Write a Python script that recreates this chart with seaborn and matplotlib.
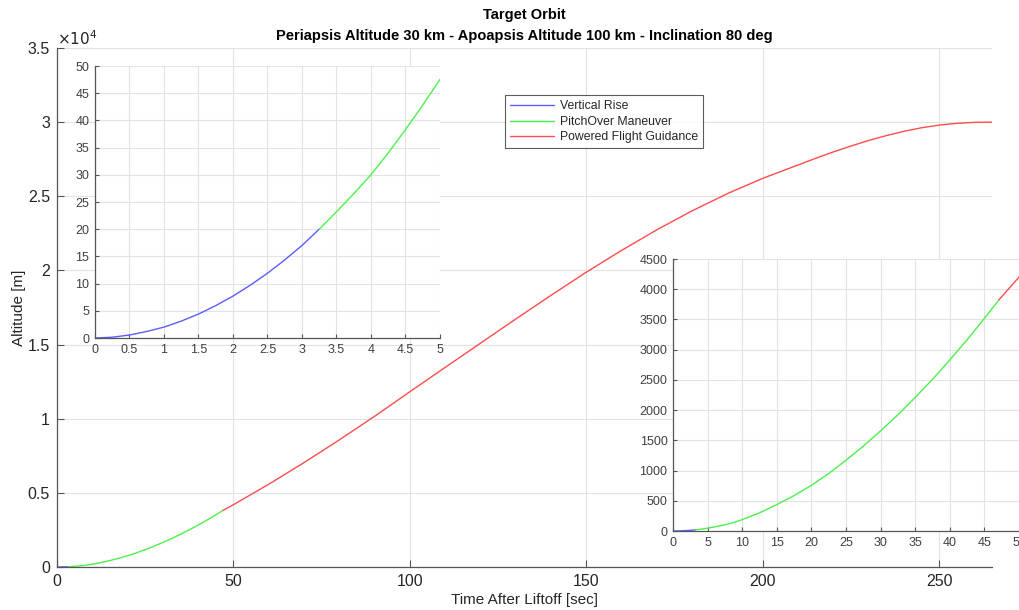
import numpy as np
import pandas as pd
import matplotlib
matplotlib.use("Agg")
import matplotlib.pyplot as plt
import matplotlib.ticker as mticker
import seaborn as sns

# ---------------- DATA ----------------

rise_t = [0, 0.25, 0.5, 0.75, 1, 1.25, 1.5, 1.75, 2, 2.25, 2.5, 2.75, 3, 3.25]
rise_alt = [0, 0.14, 0.55, 1.2, 2.0, 3.1, 4.4, 5.95, 7.7, 9.7, 11.9, 14.35,
            17.0, 20.0]

pitch_t = [3.25, 3.5, 3.75, 4, 4.25, 4.5, 4.75, 5, 6, 7, 8, 9, 10, 12.5, 15,
           17.5, 20, 22.5, 25, 27.5, 30, 32.5, 35, 37.5, 40, 42.5, 45, 47.1]
pitch_alt = [20.0, 23.2, 26.5, 30.0, 34.0, 38.3, 42.8, 47.5, 68, 91, 118, 150,
             188, 300, 437, 586, 756, 951, 1171, 1403, 1657, 1922, 2209, 2509,
             2830, 3163, 3517, 3824]

guid_t = [47.1, 50, 60, 70, 80, 90, 100, 110, 120, 130, 140, 150, 160, 170,
          180, 190, 200, 210, 215, 220, 225, 230, 235, 240, 245, 250, 255,
          260, 265]
guid_alt = [3824, 4200, 5580, 7040, 8570, 10160, 11820, 13460, 15090, 16720,
            18320, 19880, 21350, 22740, 24020, 25180, 26210, 27110, 27560,
            27990, 28390, 28760, 29090, 29380, 29620, 29800, 29920, 29985,
            30000]

labels = ["Vertical Rise", "PitchOver Maneuver", "Powered Flight Guidance"]
colors = ["#5c5cff", "#4cf04c", "#ff4c4c"]

main_xticks = [0, 50, 100, 150, 200, 250]
main_yticks = [0, 5000, 10000, 15000, 20000, 25000, 30000, 35000]

# ---------------- STYLE ----------------

sns.set_theme(style="white")
plt.rcParams["font.family"] = ["Liberation Sans", "DejaVu Sans"]
plt.rcParams["axes.edgecolor"] = "#555555"
plt.rcParams["xtick.direction"] = "in"
plt.rcParams["ytick.direction"] = "in"

grid_color = "#e3e3e3"

fig = plt.figure(figsize=(10.2, 6.1), dpi=100)


def draw_lines(ax, legend=False):
    series = [(rise_t, rise_alt), (pitch_t, pitch_alt), (guid_t, guid_alt)]
    for (t, a), lab, col in zip(series, labels, colors):
        sns.lineplot(x=t, y=a, ax=ax, color=col, linewidth=1.0,
                     label=lab if legend else None, sort=False, estimator=None)


def style_axes(ax, size, color, ticklen, pad):
    for s in ["top", "right"]:
        ax.spines[s].set_visible(False)
    for s in ["left", "bottom"]:
        ax.spines[s].set_color("#555555")
        ax.spines[s].set_linewidth(0.9)
    ax.tick_params(axis="both", which="both", direction="in", length=ticklen,
                   width=0.8, color="#555555", labelsize=size,
                   labelcolor=color, left=True, bottom=True, pad=pad)
    ax.grid(True, color=grid_color, linewidth=0.8)
    ax.set_axisbelow(True)


# ---------------- MAIN AXES ----------------

ax = fig.add_axes([0.0559, 0.0705, 0.9167, 0.8508])
draw_lines(ax, legend=True)
ax.set_xlim(0, 265)
ax.set_ylim(0, 35000)
ax.set_xticks(main_xticks)
ax.set_yticks(main_yticks)
ax.yaxis.set_major_formatter(mticker.FuncFormatter(lambda v, p: f"{v / 1e4:g}"))
style_axes(ax, 11.5, "#262626", 5, 5)
ax.set_xlabel("Time After Liftoff [sec]", fontsize=11, color="#262626", labelpad=3)
ax.set_ylabel("Altitude [m]", fontsize=11, color="#262626", labelpad=1)
ax.text(0.0, 1.0, r"$\times10^{4}$", transform=ax.transAxes, ha="left",
        va="bottom", fontsize=11, color="#262626")
ax.set_title("Target Orbit\nPeriapsis Altitude 30 km - Apoapsis Altitude 100 km - Inclination 80 deg",
             fontsize=10.5, fontweight="bold", color="black", pad=6, linespacing=1.6)

leg = ax.legend(loc="upper left", bbox_to_anchor=(0.479, 0.909), fontsize=8.8,
                frameon=True, fancybox=False, edgecolor="#333333",
                handlelength=3.6, borderpad=0.4, labelspacing=0.3,
                handletextpad=0.5, borderaxespad=0)
leg.get_frame().set_linewidth(0.8)
for line in leg.get_lines():
    line.set_linewidth(1.0)

# ---------------- INSET 1: first 5 seconds ----------------

ax1 = fig.add_axes([0.0931, 0.4459, 0.3382, 0.4459])
ax1.set_facecolor("white")
draw_lines(ax1)
ax1.set_xlim(0, 5)
ax1.set_ylim(0, 50)
ax1.set_xticks(np.arange(0, 5.01, 0.5))
ax1.set_yticks(np.arange(0, 51, 5))
ax1.xaxis.set_major_formatter(mticker.FuncFormatter(lambda v, p: f"{v:g}"))
style_axes(ax1, 9, "#404040", 3, 4)

# ---------------- INSET 2: first 50 seconds ----------------

ax2 = fig.add_axes([0.6598, 0.1295, 0.3392, 0.4459])
ax2.set_facecolor("white")
draw_lines(ax2)
ax2.set_xlim(0, 50)
ax2.set_ylim(0, 4500)
ax2.set_xticks(np.arange(0, 51, 5))
ax2.set_yticks(np.arange(0, 4501, 500))
style_axes(ax2, 9, "#404040", 3, 4)

fig.savefig("out.png", dpi=100)
